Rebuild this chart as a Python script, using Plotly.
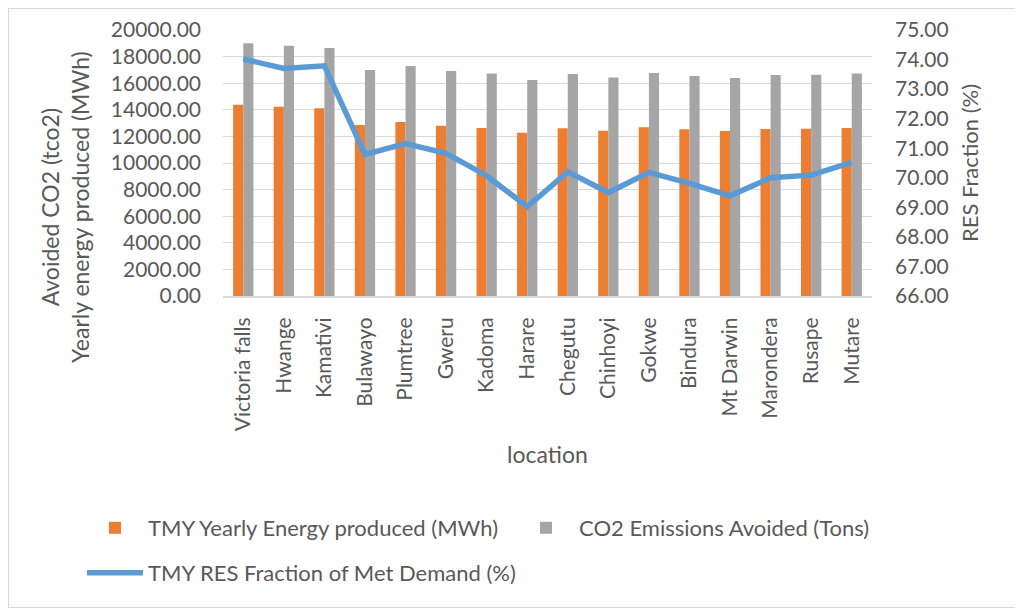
import plotly.graph_objects as go

locations = ["Victoria falls", "Hwange", "Kamativi", "Bulawayo", "Plumtree", "Gweru",
             "Kadoma", "Harare", "Chegutu", "Chinhoyi", "Gokwe", "Bindura",
             "Mt Darwin", "Marondera", "Rusape", "Mutare"]
energy_mwh = [14380, 14230, 14110, 12860, 13080, 12810, 12630, 12280,
              12610, 12430, 12680, 12530, 12410, 12560, 12580, 12630]
co2_avoided = [19000, 18820, 18650, 16990, 17290, 16920, 16720, 16240,
               16690, 16420, 16770, 16540, 16390, 16620, 16640, 16720]
res_fraction = [74.02, 73.70, 73.79, 70.79, 71.16, 70.83, 70.07, 69.02,
                70.20, 69.50, 70.18, 69.81, 69.39, 70.00, 70.09, 70.52]

FONT = "Lato"
TXT = "#595959"
GRID = "#D9D9D9"

fig = go.Figure()
fig.add_trace(go.Bar(x=locations, y=energy_mwh, name="TMY Yearly Energy produced (MWh)",
                     marker=dict(color="#ED7D31", line=dict(width=0)), legend="legend"))
fig.add_trace(go.Bar(x=locations, y=co2_avoided, name="CO2 Emissions Avoided (Tons)",
                     marker=dict(color="#A5A5A5", line=dict(width=0)), legend="legend"))
fig.add_trace(go.Scatter(x=locations, y=res_fraction, name="TMY RES Fraction of Met Demand (%)",
                         mode="lines", yaxis="y2",
                         line=dict(color="#5B9BD5", width=5.5), legend="legend2"))

# page body has an 8px margin: figure coordinates = screen - 8
OFF = 8
W, H = 1023 - OFF, 608 - OFF
L, R, T, B = 223 - OFF, 1023 - 872, 30 - OFF, 608 - 296
pw, ph = W - L - R, H - T - B

def px_x(xs):
    return (xs - OFF - L) / pw

def px_y(ys):
    return (H - B - (ys - OFF)) / ph

fig.update_layout(
    width=W, height=H,
    margin=dict(l=L, r=R, t=T, b=B, autoexpand=False),
    paper_bgcolor="white", plot_bgcolor="white",
    font=dict(family=FONT, size=20, color=TXT),
    barmode="group", bargap=0.5, bargroupgap=0,
    xaxis=dict(
        tickangle=-90, tickfont=dict(size=21, color=TXT), showgrid=False,
        showline=True, linecolor=GRID, linewidth=2, ticks="", ticklabelstandoff=11,
        title=dict(text="location", font=dict(size=23, color=TXT), standoff=17),
        automargin=False,
    ),
    yaxis=dict(
        range=[0, 20000], dtick=2000, tickformat=".2f", showgrid=True, gridcolor=GRID,
        gridwidth=1.3, zeroline=False, showline=False, ticks="", ticklabelstandoff=21,
        tickfont=dict(size=21, color=TXT),
        automargin=False,
    ),
    yaxis2=dict(
        range=[66, 75], dtick=1, tickformat=".2f", overlaying="y", side="right",
        showgrid=False, zeroline=False, showline=False, ticks="", ticklabelstandoff=22,
        tickfont=dict(size=21, color=TXT),
        title=dict(text="RES Fraction (%)", font=dict(size=22, color=TXT), standoff=14),
        automargin=False,
    ),
    legend=dict(orientation="h", x=px_x(82), xanchor="left", y=px_y(528), yanchor="middle",
                font=dict(size=22, color=TXT), entrywidth=360, itemwidth=56,
                bgcolor="rgba(0,0,0,0)"),
    legend2=dict(orientation="h", x=px_x(82), xanchor="left", y=px_y(573), yanchor="middle",
                 font=dict(size=22, color=TXT), itemwidth=56, bgcolor="rgba(0,0,0,0)"),
    annotations=[dict(text="Avoided CO2 (tco2)<br>Yearly energy produced (MWh)",
                      textangle=-90, xref="paper", yref="paper",
                      x=px_x(65), y=px_y(207), xanchor="center", yanchor="middle",
                      showarrow=False, align="center",
                      font=dict(size=23, color=TXT, family=FONT))],
    shapes=[dict(type="rect", xref="paper", yref="paper",
                 x0=px_x(OFF + 0.5), x1=px_x(1022.5), y0=px_y(607.5), y1=px_y(OFF + 0.5),
                 line=dict(color=GRID, width=1.2), fillcolor="rgba(0,0,0,0)", layer="below")],
)

fig.write_html("out.html")
